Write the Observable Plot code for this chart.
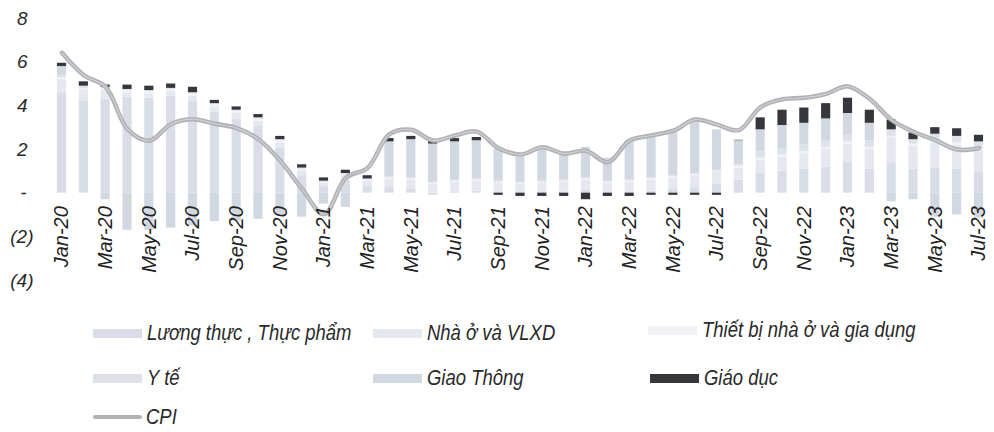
<!DOCTYPE html>
<html><head><meta charset="utf-8">
<script src="https://cdn.jsdelivr.net/npm/d3@7"></script>
<script src="https://cdn.jsdelivr.net/npm/@observablehq/plot@0.6"></script>
<style>
body{margin:0;background:#fff;}
#wrap{position:relative;width:994px;height:432px;font-family:"Liberation Sans",Arial,sans-serif;font-style:italic;}
#chart svg{display:block;}
.leg{position:absolute;display:flex;align-items:center;font-size:22px;color:#2a2a2a;white-space:nowrap;line-height:1;}
.sw{width:49px;height:9px;margin-right:5px;flex:none;}
.swl{width:49px;height:4px;margin-right:4px;flex:none;border-radius:2px;}
.lt{display:inline-block;transform:scaleX(0.84);transform-origin:left center;}
</style></head><body>
<div id="wrap"><div id="chart"></div></div>
<script>
const months = ["Jan-20","Feb-20","Mar-20","Apr-20","May-20","Jun-20","Jul-20","Aug-20","Sep-20","Oct-20","Nov-20","Dec-20",
"Jan-21","Feb-21","Mar-21","Apr-21","May-21","Jun-21","Jul-21","Aug-21","Sep-21","Oct-21","Nov-21","Dec-21",
"Jan-22","Feb-22","Mar-22","Apr-22","May-22","Jun-22","Jul-22","Aug-22","Sep-22","Oct-22","Nov-22","Dec-22",
"Jan-23","Feb-23","Mar-23","Apr-23","May-23","Jun-23","Jul-23"];
const cpi = [6.43,5.40,4.87,2.93,2.40,3.17,3.39,3.18,2.98,2.47,1.48,0.19,
-0.97,0.70,1.16,2.70,2.90,2.41,2.64,2.82,2.06,1.77,2.10,1.81,
1.94,1.42,2.41,2.64,2.86,3.37,3.14,2.89,3.94,4.30,4.37,4.55,
4.89,4.31,3.35,2.81,2.43,2.00,2.06];
const luongThuc = [4.6,4.2,4.3,4.4,4.35,4.45,4.2,3.7,3.4,3.05,2.05,0.8,
0.3,0.6,0.3,0.3,0.2,-0.1,0.05,0.1,0.05,0.05,0.05,0.05,
0.15,0.05,0.05,0.1,0.2,0.25,0.4,0.6,0.9,1.0,1.1,1.2,
1.4,1.1,1.4,1.1,1.15,1.1,0.95];
const nhaO = [0.6,0.5,0.4,0.2,0.2,0.2,0.25,0.25,0.25,0.25,0.25,0.2,
0.15,0.2,0.25,0.35,0.4,0.4,0.45,0.45,0.4,0.35,0.4,0.45,
0.45,0.4,0.45,0.5,0.5,0.55,0.55,0.55,0.6,0.65,0.7,0.8,
0.85,0.9,1.1,1.05,1.15,1.1,1.0];
const thietBi = [0.1,0.1,0.1,0.1,0.1,0.1,0.1,0.1,0.1,0.1,0.1,0.1,
0.05,0.05,0.05,0.05,0.05,0.05,0.05,0.05,0.05,0.05,0.05,0.05,
0.05,0.05,0.05,0.05,0.05,0.05,0.05,0.1,0.1,0.1,0.1,0.1,
0.1,0.1,0.1,0.1,0.1,0.1,0.1];
const yTe = [0.1,0.1,0.05,0.05,0.05,0.05,0.05,0.05,0.05,0.05,0.05,0.05,
0.05,0.05,0.05,0.05,0.05,0.05,0.05,0.05,0.05,0.05,0.05,0.05,
0.05,0.05,0.05,0.05,0.05,0.05,0.05,0.05,0.3,0.3,0.3,0.3,
0.3,0.3,0.3,0.2,0.3,0.3,0.3];
const giaoThong = [0.4,0.0,-0.3,-1.7,-1.7,-1.6,-1.5,-1.3,-1.3,-1.2,-1.0,-1.1,
-0.5,-0.65,0.0,1.6,1.75,1.75,1.75,1.75,1.45,1.15,1.55,1.3,
1.4,1.05,1.8,1.95,2.0,2.45,1.85,1.1,1.0,1.05,1.0,1.0,
1.0,0.8,-0.4,-0.3,-1.1,-1.0,-1.15];
const giaoDuc = [0.15,0.2,0.1,0.2,0.2,0.2,0.25,0.15,0.15,0.15,0.15,0.15,
0.15,0.15,0.15,0.15,0.15,0.15,0.15,0.15,-0.1,-0.15,-0.15,-0.15,
-0.3,-0.15,-0.15,-0.1,-0.1,-0.1,-0.1,0.02,0.55,0.7,0.7,0.7,
0.7,0.6,0.45,0.3,0.3,0.35,0.3];
const seriesNames = ["Lương thực , Thực phẩm","Nhà ở và VLXD","Thiết bị nhà ở và gia dụng","Y tế","Giao Thông","Giáo dục"];
const seriesColors = ["#d8dde7","#e5e8ee","#f0f2f5","#dde1e9","#d2d8e2","#35373c"];
const yTicks = [-4,-2,0,2,4,6,8];
const cpiName = "CPI";
const cpiColor = "#b0b2b6";

const seriesValues = [luongThuc,nhaO,thietBi,yTe,giaoThong,giaoDuc];
const rows = [];
seriesValues.forEach((vals,si)=>vals.forEach((v,i)=>rows.push({month:months[i],series:seriesNames[si],value:v})));
const cpiRows = months.map((m,i)=>({month:m,value:cpi[i]}));
const labelRows = months.filter((m,i)=>i%2===0).map(m=>({month:m}));

const fontFam = '"Liberation Sans",Arial,sans-serif';
const fmt = d => d===0 ? "-" : d<0 ? `(${-d})` : `${d}`;
const posTicks = yTicks.filter(d => d > 0);
const zeroTicks = yTicks.filter(d => d === 0);
const negTicks = yTicks.filter(d => d < 0);
const tickStyle = {y: d => d, text: fmt, frameAnchor: "left", textAnchor: "end", fontSize: 19, fill: "#2a2a2a"};

const chart = Plot.plot({
  width: 994, height: 292,
  marginLeft: 46, marginRight: 0, marginTop: 18, marginBottom: 12,
  style: {fontFamily: fontFam, fontStyle: "italic", background: "#fff", color: "#2a2a2a"},
  x: {domain: months, paddingInner: 0.58, paddingOuter: 0.5, axis: null},
  y: {domain: [-4, 8], axis: null},
  color: {domain: seriesNames, range: seriesColors},
  marks: [
    Plot.text(posTicks, {...tickStyle, dx: -19}),
    Plot.text(zeroTicks, {...tickStyle, dx: -20}),
    Plot.text(negTicks, {...tickStyle, dx: -13}),
    Plot.barY(rows, Plot.stackY({x: "month", y: "value", fill: "series"})),
    Plot.line(cpiRows, {x: "month", y: "value", stroke: cpiColor, strokeWidth: 4.5, curve: "catmull-rom"}),
    Plot.line(cpiRows, {x: "month", y: "value", stroke: "#cfd1d4", strokeWidth: 1.2, curve: "catmull-rom"}),
    Plot.text(labelRows, {x: "month", y: () => 0, text: "month", rotate: -90, textAnchor: "end", dy: 13, fontSize: 20, fill: "#222"})
  ]
});
const wrap = document.getElementById("wrap");
document.getElementById("chart").appendChild(chart);

// legend
const legPos = [[93,333],[373,333],[648,330],[93,378],[373,378],[650,378]];
seriesNames.forEach((n,i)=>{
  const d = document.createElement("div");
  d.className = "leg";
  d.style.left = legPos[i][0]+"px";
  d.style.top = (legPos[i][1]-11)+"px";
  d.style.height = "22px";
  d.innerHTML = `<span class="sw" style="background:${seriesColors[i]}"></span><span class="lt">${n}</span>`;
  wrap.appendChild(d);
});
const c = document.createElement("div");
c.className = "leg";
c.style.left = "93px"; c.style.top = (417-11)+"px"; c.style.height = "22px";
c.innerHTML = `<span class="swl" style="background:${cpiColor}"></span><span class="lt">${cpiName}</span>`;
wrap.appendChild(c);
</script>
</body></html>
